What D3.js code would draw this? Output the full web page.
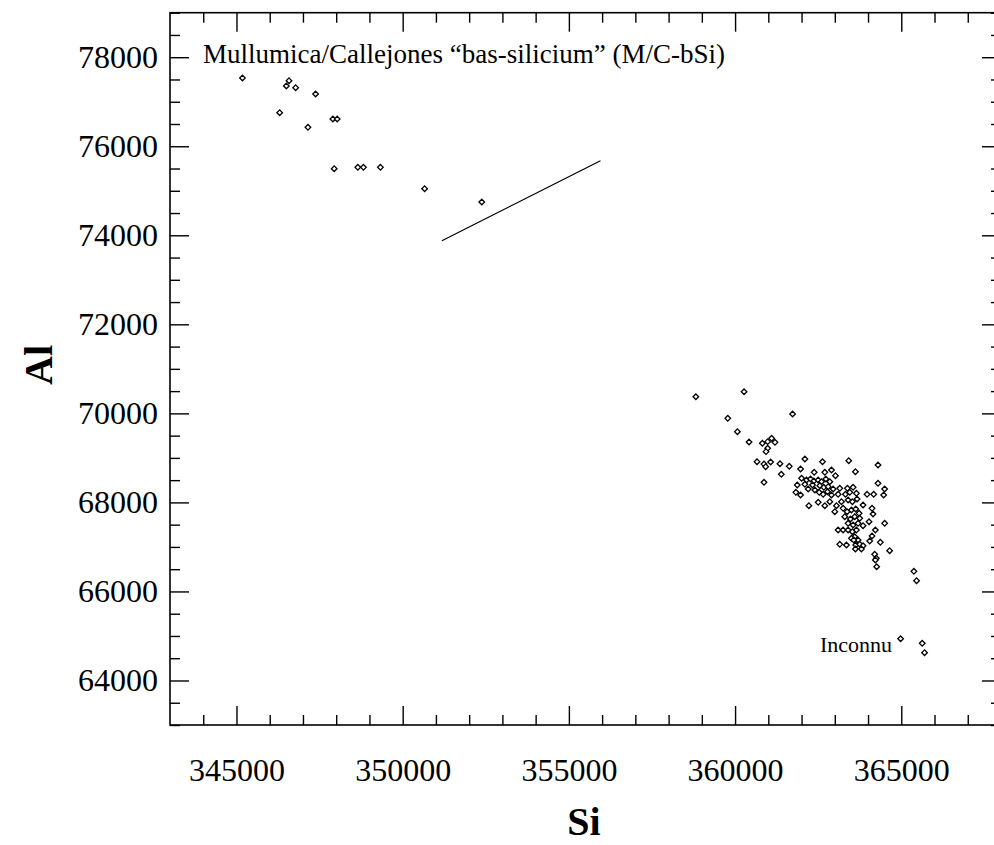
<!DOCTYPE html>
<html>
<head>
<meta charset="utf-8">
<script src="https://cdnjs.cloudflare.com/ajax/libs/d3/7.8.5/d3.min.js"></script>
<style>
  body { margin: 0; background: #fff; }
  svg { display: block; }
  text { font-family: "Liberation Serif", "Times New Roman", serif; fill: #000; }
</style>
</head>
<body>
<svg id="chart"></svg>
<script>
var width = 994;
var height = 845;

// Mullumica/Callejones group (top left)
var mcSi = [345180, 346580, 346500, 346780, 347380, 346300, 347900, 348030, 347150,
  347940, 348650, 348820, 349330, 350660, 352380];
var mcAl = [77533, 77473, 77353, 77315, 77174, 76754, 76612, 76612, 76426,
  75496, 75527, 75527, 75527, 75047, 74748];

// main cluster (bottom right)
var clSi = [358820, 360270, 359780, 361730, 360070, 360420, 360820, 360980, 361100, 361200,
  360980, 360930, 360660, 360870, 360920, 361070, 361350, 361630, 360870, 361390,
  364260, 365380, 365460, 364980, 365630, 365700,
  362100, 362630, 363420, 364300, 361970, 362380, 362700, 362900, 363020, 363620,
  362000, 362150, 362270, 362370, 362500, 362600, 362730, 362850, 361870, 362100,
  362330, 362550, 362670, 362800, 362950, 363150, 363380, 363550, 364300, 364500,
  361830, 361970, 362200, 362400, 362530, 362650, 362780, 362900, 363100, 363320,
  363450, 363650, 363970, 364170, 364470, 362220, 362500, 362700, 362850, 363050,
  363200, 363400, 363530, 363670, 363850, 363000, 363250, 363370, 363500, 363630,
  363730, 364120, 364150, 363300, 363470, 363600, 363750, 363400, 363550, 363700,
  363850, 364030, 364500, 363100, 363250, 363400, 363530, 363650, 364220, 363600,
  363500, 364120, 363700, 364050, 364370, 363150, 363350, 363570, 363630, 363750,
  363850, 363620, 363800, 364650, 364200, 364250, 364220];
var clAl = [70374, 70486, 69889, 69986, 69588, 69357, 69327, 69365, 69440, 69350,
  69215, 69140, 68914, 68862, 68802, 68907, 68869, 68811, 68451, 68631,
  66555, 66452, 66241, 64938, 64835, 64624,
  68975, 68914, 68937, 68840, 68750, 68676, 68676, 68728, 68600, 68690,
  68541, 68503, 68526, 68481, 68503, 68465, 68526, 68465, 68391, 68407,
  68391, 68375, 68339, 68353, 68301, 68317, 68317, 68339, 68429, 68301,
  68227, 68166, 68301, 68278, 68227, 68182, 68240, 68166, 68182, 68182,
  68227, 68204, 68182, 68182, 68166, 67926, 68002, 67926, 68016, 67926,
  68016, 68054, 68016, 68076, 67941, 67791, 67867, 67791, 67829, 67852,
  67755, 67867, 67739, 67679, 67627, 67679, 67643, 67530, 67492, 67530,
  67477, 67566, 67530, 67380, 67380, 67380, 67342, 67380, 67380, 67229,
  67194, 67245, 67155, 67133, 67104, 67059, 67043, 67155, 67043, 67059,
  67027, 66953, 66953, 66915, 66834, 66744, 66706];

// straight segment drawn in the plot
var lineSi = [351180, 355950];
var lineAl = [73878, 75675];

var xMajor = [345000, 350000, 355000, 360000, 365000];
var yMajor = [64000, 66000, 68000, 70000, 72000, 74000, 76000, 78000];

var margin = { left: 170, top: 12.7, right: 1001, bottom: 725 };

var x = d3.scaleLinear().domain([343000, 368000]).range([margin.left, margin.right]);
var y = d3.scaleLinear().domain([63000, 79000]).range([margin.bottom, margin.top]);

var xMinor = d3.range(344000, 368001, 1000).filter(function(v) { return v % 5000 !== 0; });
var yMinor = d3.range(63000, 79001, 500).filter(function(v) { return v % 2000 !== 0; });

var svg = d3.select("#chart")
  .attr("width", width)
  .attr("height", height);

function styleAxis(g) {
  g.select(".domain").remove();
  g.selectAll("line").attr("stroke", "#000").attr("stroke-width", 1.4);
  g.selectAll("text").style("font-size", "32px").attr("fill", "#000");
}

// bottom
svg.append("g")
  .attr("transform", "translate(0," + margin.bottom + ")")
  .call(d3.axisBottom(x).tickValues(xMajor).tickSizeInner(-19).tickSizeOuter(0).tickPadding(33).tickFormat(d3.format("d")))
  .call(styleAxis);
svg.append("g")
  .attr("transform", "translate(0," + margin.bottom + ")")
  .call(d3.axisBottom(x).tickValues(xMinor).tickSizeInner(-10).tickSizeOuter(0).tickFormat(""))
  .call(styleAxis);

// top
svg.append("g")
  .attr("transform", "translate(0," + margin.top + ")")
  .call(d3.axisTop(x).tickValues(xMajor).tickSizeInner(-19).tickSizeOuter(0).tickFormat(""))
  .call(styleAxis);
svg.append("g")
  .attr("transform", "translate(0," + margin.top + ")")
  .call(d3.axisTop(x).tickValues(xMinor).tickSizeInner(-10).tickSizeOuter(0).tickFormat(""))
  .call(styleAxis);

// left
svg.append("g")
  .attr("transform", "translate(" + margin.left + ",0)")
  .call(d3.axisLeft(y).tickValues(yMajor).tickSizeInner(-19).tickSizeOuter(0).tickPadding(12).tickFormat(d3.format("d")))
  .call(styleAxis);
svg.append("g")
  .attr("transform", "translate(" + margin.left + ",0)")
  .call(d3.axisLeft(y).tickValues(yMinor).tickSizeInner(-10).tickSizeOuter(0).tickFormat(""))
  .call(styleAxis);

// right
svg.append("g")
  .attr("transform", "translate(" + margin.right + ",0)")
  .call(d3.axisRight(y).tickValues(yMajor).tickSizeInner(-19).tickSizeOuter(0).tickFormat(""))
  .call(styleAxis);
svg.append("g")
  .attr("transform", "translate(" + margin.right + ",0)")
  .call(d3.axisRight(y).tickValues(yMinor).tickSizeInner(-10).tickSizeOuter(0).tickFormat(""))
  .call(styleAxis);

// frame
svg.append("rect")
  .attr("x", margin.left)
  .attr("y", margin.top)
  .attr("width", margin.right - margin.left)
  .attr("height", margin.bottom - margin.top)
  .attr("fill", "none")
  .attr("stroke", "#000")
  .attr("stroke-width", 1.6);

// segment
svg.append("line")
  .attr("x1", x(lineSi[0])).attr("y1", y(lineAl[0]))
  .attr("x2", x(lineSi[1])).attr("y2", y(lineAl[1]))
  .attr("stroke", "#000")
  .attr("stroke-width", 1.3);

// points
var r = 2.8;
var diamond = "M0," + (-r) + "L" + r + ",0L0," + r + "L" + (-r) + ",0Z";

var points = [];
mcSi.forEach(function(v, i) { points.push([v, mcAl[i]]); });
clSi.forEach(function(v, i) { points.push([v, clAl[i]]); });

svg.append("g")
  .selectAll("path")
  .data(points)
  .enter().append("path")
  .attr("d", diamond)
  .attr("transform", function(d) { return "translate(" + x(d[0]) + "," + y(d[1]) + ")"; })
  .attr("fill", "#fff")
  .attr("stroke", "#000")
  .attr("stroke-width", 1.3);

// annotations
svg.append("text")
  .attr("x", 203)
  .attr("y", 62.5)
  .style("font-size", "27px")
  .text("Mullumica/Callejones \u201cbas-silicium\u201d (M/C-bSi)");

svg.append("text")
  .attr("x", 820)
  .attr("y", 651.5)
  .style("font-size", "22px")
  .text("Inconnu");

// axis titles
svg.append("text")
  .attr("x", 584)
  .attr("y", 835)
  .attr("text-anchor", "middle")
  .style("font-size", "40px")
  .style("font-weight", "bold")
  .text("Si");

svg.append("text")
  .attr("transform", "translate(52,365) rotate(-90)")
  .attr("text-anchor", "middle")
  .style("font-size", "40px")
  .style("font-weight", "bold")
  .text("Al");
</script>
</body>
</html>
